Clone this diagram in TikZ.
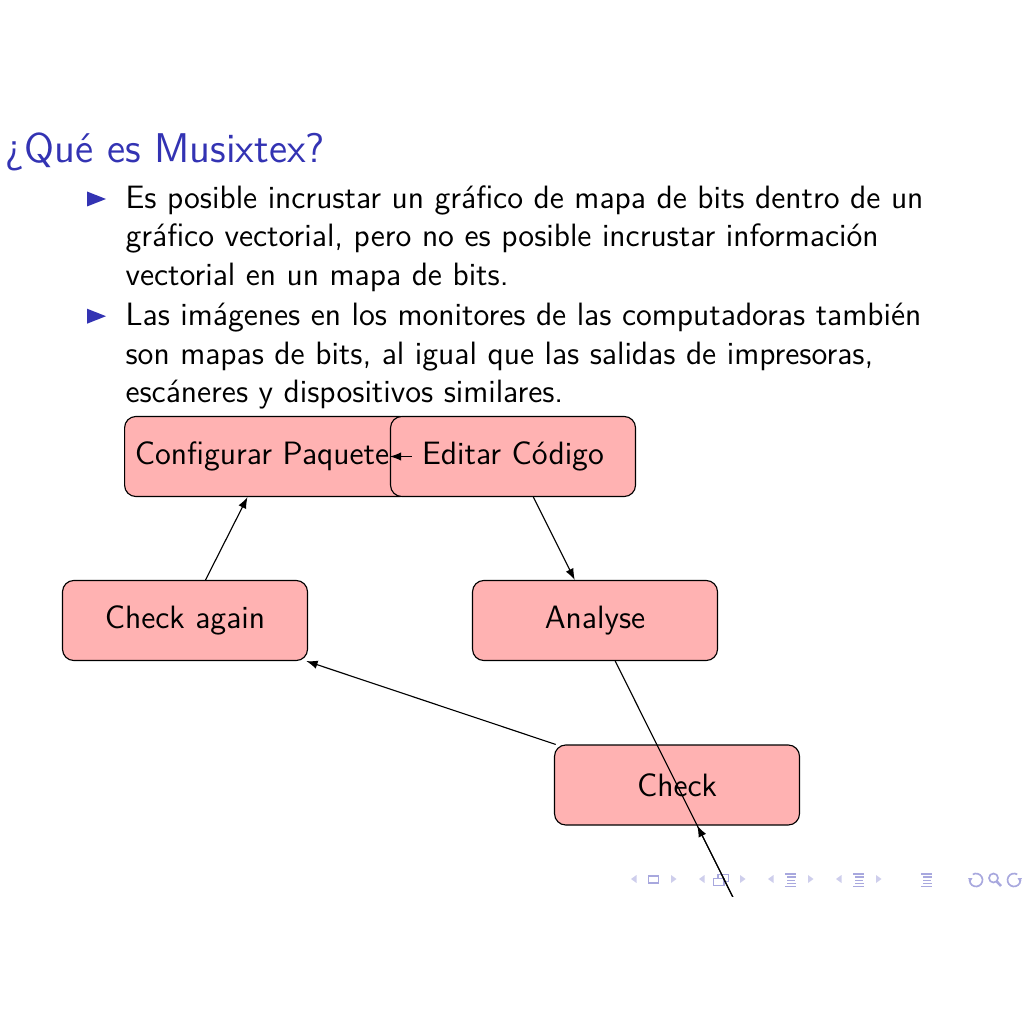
\documentclass[tikz,border=0pt]{standalone}
\usepackage{fontspec}
\usetikzlibrary{arrows.meta}
\definecolor{struct}{RGB}{51,51,179}
\definecolor{navdark}{RGB}{168,168,222}
\definecolor{navlight}{RGB}{206,206,236}
\begin{document}
\begin{tikzpicture}[x=0.35433pt,y=-0.35433pt,
  font=\sffamily\fontsize{11.45pt}{13.6pt}\selectfont,
  box/.style={draw=black, fill=red!30, rounded corners=4pt, minimum width=86.8pt,
    minimum height=28.35pt, inner sep=3.667pt},
  txt/.style={anchor=base west, inner sep=0pt},
  conn/.style={-{Latex[length=4pt,width=3pt]}},
  navline/.style={navdark, line width=0.6pt}]
\useasboundingbox (0,0) rectangle (1024,1024);

% title
\node[txt, text=struct, font=\sffamily\fontsize{14.72pt}{17pt}\selectfont] (title) at (5,163) {¿Qué es Musixtex?};

% bullets
\fill[struct] (87,191.5) -- (87,206.5) -- (106,199) -- cycle;
\fill[struct] (87,308.7) -- (87,323.7) -- (106,316.2) -- cycle;
\node[txt] (l1) at (125,208.5) {Es posible incrustar un gráfico de mapa de bits dentro de un};
\node[txt] (l2) at (125,247) {gráfico vectorial, pero no es posible incrustar información};
\node[txt] (l3) at (125,285.5) {vectorial en un mapa de bits.};
\node[txt] (l4) at (125,326) {Las imágenes en los monitores de las computadoras también};
\node[txt] (l5) at (125,364.5) {son mapas de bits, al igual que las salidas de impresoras,};
\node[txt] (l6) at (125,403) {escáneres y dispositivos similares.};

% nodes
\node[box, text width=94.3pt, align=left] (conf) at (268,456.5) {Configurar Paquete};
\node[box] (edit) at (513,456.5) {Editar Código};
\node[box] (ana) at (595,620.5) {Analyse};
\node[box] (chkag) at (185,620.5) {Check again};
\node[box] (chk) at (677,785) {Check};
\coordinate (below) at (784.2,1000);

% navigation symbols
\foreach \a in {631,699,768,836}
  \fill[navlight] (\a,879) -- (\a+5.5,875) -- (\a+5.5,883) -- cycle;
\foreach \a in {671,740,808,876}
  \fill[navlight] (\a,875) -- (\a,883) -- (\a+5.5,879) -- cycle;
\draw[navline] (648.5,876) rectangle (658.5,883);
\draw[navline] (718,874.5) rectangle (728.5,881.5);
\filldraw[navline, fill=white] (713.5,878.5) rectangle (724,885.5);
\foreach \b in {785,853,921} {
  \draw[navline] (\b,874) -- (\b+11,874);
  \draw[navline] (\b+2,877.2) -- (\b+11,877.2);
  \draw[navline] (\b+2,880.4) -- (\b+10,880.4);
  \draw[navline] (\b+2,883.6) -- (\b+11,883.6);
  \draw[navline] (\b,886.5) -- (\b+11,886.5);
}
\draw[navline] ([shift={(120:2.3pt)}]976,880) arc[start angle=120, end angle=-180, radius=2.3pt];
\fill[navdark] (968,878) -- (972.5,878) -- (970.2,882) -- cycle;
\draw[navline] (993.5,878) circle[radius=1.6pt];
\draw[navline, line width=0.9pt] (996.8,881.5) -- (1001,886);
\draw[navline] ([shift={(60:2.3pt)}]1014,880) arc[start angle=60, end angle=360, radius=2.3pt];
\fill[navdark] (1022,878) -- (1017.5,878) -- (1019.8,882) -- cycle;

% connectors
\begin{scope}
\clip (0,128) rectangle (1024,896);
\draw[conn] (conf) -- (edit);
\draw[conn] (edit) -- (ana);
\draw[conn] (chk) -- (chkag);
\draw[conn] (chkag) -- (conf);
\draw[conn] (below) -- (chk);
\draw[conn] (ana) -- (below);
\end{scope}
\end{tikzpicture}
\end{document}
